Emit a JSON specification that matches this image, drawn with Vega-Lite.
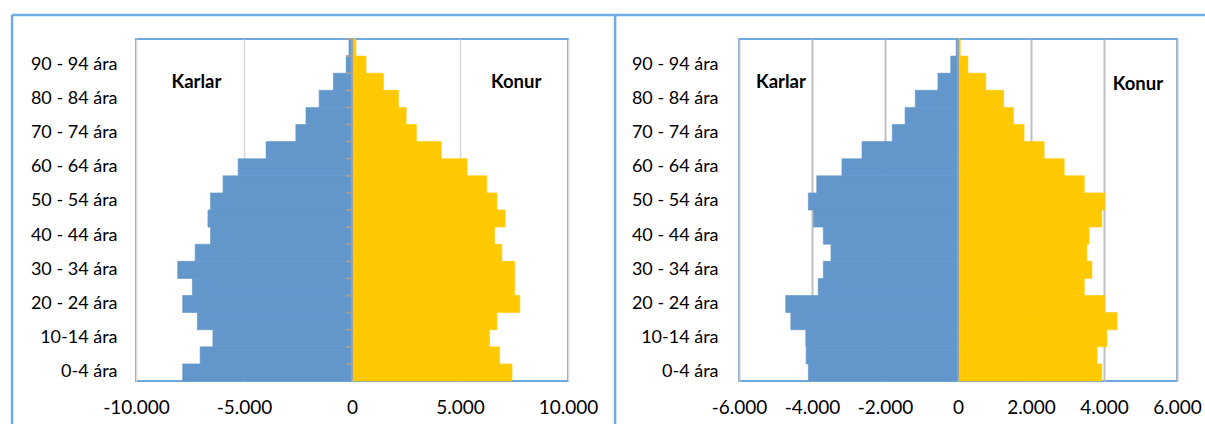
{
  "$schema": "https://vega.github.io/schema/vega-lite/v6.json",
  "padding": {"left": 9, "top": 12, "right": 0, "bottom": 0},
  "config": {
    "locale": {"number": {"decimal": ",", "thousands": ".", "grouping": [3], "currency": ["", ""], "minus": "-"}},
    "view": {"stroke": "#6FA8DC", "strokeWidth": 2},
    "font": "Lato"
  },
  "datasets": {
    "left": [
      {"age": "0-4 ára", "sex": "Karlar", "value": -7840}, {"age": "0-4 ára", "sex": "Konur", "value": 7410},
      {"age": "5-9 ára", "sex": "Karlar", "value": -7030}, {"age": "5-9 ára", "sex": "Konur", "value": 6830},
      {"age": "10-14 ára", "sex": "Karlar", "value": -6440}, {"age": "10-14 ára", "sex": "Konur", "value": 6370},
      {"age": "15-19 ára", "sex": "Karlar", "value": -7160}, {"age": "15-19 ára", "sex": "Konur", "value": 6710},
      {"age": "20 - 24 ára", "sex": "Karlar", "value": -7840}, {"age": "20 - 24 ára", "sex": "Konur", "value": 7770},
      {"age": "25 - 29 ára", "sex": "Karlar", "value": -7390}, {"age": "25 - 29 ára", "sex": "Konur", "value": 7530},
      {"age": "30 - 34 ára", "sex": "Karlar", "value": -8070}, {"age": "30 - 34 ára", "sex": "Konur", "value": 7530},
      {"age": "35 - 39 ára", "sex": "Karlar", "value": -7260}, {"age": "35 - 39 ára", "sex": "Konur", "value": 6940},
      {"age": "40 - 44 ára", "sex": "Karlar", "value": -6550}, {"age": "40 - 44 ára", "sex": "Konur", "value": 6600},
      {"age": "45 - 49 ára", "sex": "Karlar", "value": -6670}, {"age": "45 - 49 ára", "sex": "Konur", "value": 7090},
      {"age": "50 - 54 ára", "sex": "Karlar", "value": -6550}, {"age": "50 - 54 ára", "sex": "Konur", "value": 6710},
      {"age": "55 - 59 ára", "sex": "Karlar", "value": -5970}, {"age": "55 - 59 ára", "sex": "Konur", "value": 6240},
      {"age": "60 - 64 ára", "sex": "Karlar", "value": -5270}, {"age": "60 - 64 ára", "sex": "Konur", "value": 5330},
      {"age": "65 - 69 ára", "sex": "Karlar", "value": -3980}, {"age": "65 - 69 ára", "sex": "Konur", "value": 4140},
      {"age": "70 - 74 ára", "sex": "Karlar", "value": -2600}, {"age": "70 - 74 ára", "sex": "Konur", "value": 2980},
      {"age": "75 - 79 ára", "sex": "Karlar", "value": -2130}, {"age": "75 - 79 ára", "sex": "Konur", "value": 2510},
      {"age": "80 - 84 ára", "sex": "Karlar", "value": -1520}, {"age": "80 - 84 ára", "sex": "Konur", "value": 2150},
      {"age": "85 - 89 ára", "sex": "Karlar", "value": -860}, {"age": "85 - 89 ára", "sex": "Konur", "value": 1450},
      {"age": "90 - 94 ára", "sex": "Karlar", "value": -270}, {"age": "90 - 94 ára", "sex": "Konur", "value": 650},
      {"age": "95+ ára", "sex": "Karlar", "value": -140}, {"age": "95+ ára", "sex": "Konur", "value": 180}
    ],
    "right": [
      {"age": "0-4 ára", "sex": "Karlar", "value": -4100}, {"age": "0-4 ára", "sex": "Konur", "value": 3940},
      {"age": "5-9 ára", "sex": "Karlar", "value": -4160}, {"age": "5-9 ára", "sex": "Konur", "value": 3810},
      {"age": "10-14 ára", "sex": "Karlar", "value": -4170}, {"age": "10-14 ára", "sex": "Konur", "value": 4080},
      {"age": "15-19 ára", "sex": "Karlar", "value": -4580}, {"age": "15-19 ára", "sex": "Konur", "value": 4360},
      {"age": "20 - 24 ára", "sex": "Karlar", "value": -4720}, {"age": "20 - 24 ára", "sex": "Konur", "value": 4020},
      {"age": "25 - 29 ára", "sex": "Karlar", "value": -3830}, {"age": "25 - 29 ára", "sex": "Konur", "value": 3460},
      {"age": "30 - 34 ára", "sex": "Karlar", "value": -3690}, {"age": "30 - 34 ára", "sex": "Konur", "value": 3670},
      {"age": "35 - 39 ára", "sex": "Karlar", "value": -3480}, {"age": "35 - 39 ára", "sex": "Konur", "value": 3530},
      {"age": "40 - 44 ára", "sex": "Karlar", "value": -3690}, {"age": "40 - 44 ára", "sex": "Konur", "value": 3590},
      {"age": "45 - 49 ára", "sex": "Karlar", "value": -3960}, {"age": "45 - 49 ára", "sex": "Konur", "value": 3940},
      {"age": "50 - 54 ára", "sex": "Karlar", "value": -4100}, {"age": "50 - 54 ára", "sex": "Konur", "value": 4020},
      {"age": "55 - 59 ára", "sex": "Karlar", "value": -3870}, {"age": "55 - 59 ára", "sex": "Konur", "value": 3460},
      {"age": "60 - 64 ára", "sex": "Karlar", "value": -3180}, {"age": "60 - 64 ára", "sex": "Konur", "value": 2910},
      {"age": "65 - 69 ára", "sex": "Karlar", "value": -2630}, {"age": "65 - 69 ára", "sex": "Konur", "value": 2360},
      {"age": "70 - 74 ára", "sex": "Karlar", "value": -1800}, {"age": "70 - 74 ára", "sex": "Konur", "value": 1810},
      {"age": "75 - 79 ára", "sex": "Karlar", "value": -1450}, {"age": "75 - 79 ára", "sex": "Konur", "value": 1520},
      {"age": "80 - 84 ára", "sex": "Karlar", "value": -1170}, {"age": "80 - 84 ára", "sex": "Konur", "value": 1250},
      {"age": "85 - 89 ára", "sex": "Karlar", "value": -550}, {"age": "85 - 89 ára", "sex": "Konur", "value": 760},
      {"age": "90 - 94 ára", "sex": "Karlar", "value": -200}, {"age": "90 - 94 ára", "sex": "Konur", "value": 270},
      {"age": "95+ ára", "sex": "Karlar", "value": -50}, {"age": "95+ ára", "sex": "Konur", "value": 60}
    ]
  },
  "hconcat": [
    {
      "width": 432,
      "height": 342,
      "resolve": {"scale": {"y": "independent"}, "axis": {"y": "independent"}},
      "layer": [
        {
          "layer": [
            {
              "data": {"name": "left"},
              "mark": {"type": "bar", "strokeWidth": 0.6},
              "encoding": {
                "y": {
                  "field": "age", "type": "nominal",
                  "scale": {"domain": ["95+ ára", "90 - 94 ára", "85 - 89 ára", "80 - 84 ára", "75 - 79 ára", "70 - 74 ára", "65 - 69 ára", "60 - 64 ára", "55 - 59 ára", "50 - 54 ára", "45 - 49 ára", "40 - 44 ára", "35 - 39 ára", "30 - 34 ára", "25 - 29 ára", "20 - 24 ára", "15-19 ára", "10-14 ára", "5-9 ára", "0-4 ára"], "paddingInner": 0, "paddingOuter": 0},
                  "axis": {
                    "title": null, "orient": "left", "offset": -216,
                    "domain": false, "ticks": false,
                    "labelPadding": 235, "labelFont": "Lato", "labelFontSize": 18, "labelColor": "#000000",
                    "labelExpr": "indexof(['0-4 ára','10-14 ára','20 - 24 ára','30 - 34 ára','40 - 44 ára','50 - 54 ára','60 - 64 ára','70 - 74 ára','80 - 84 ára','90 - 94 ára'], datum.value) >= 0 ? datum.label : ''"
                  }
                },
                "x": {
                  "field": "value", "type": "quantitative", "stack": null,
                  "scale": {"domain": [-10000, 10000], "nice": false},
                  "axis": {
                    "title": null, "values": [-10000, -5000, 0, 5000, 10000], "format": ",d",
                    "grid": true, "gridColor": "#D9D9D9", "gridWidth": 1.5,
                    "domain": false, "ticks": false, "labelPadding": 17,
                    "labelFlush": false, "labelOverlap": false,
                    "labelFont": "Lato", "labelFontSize": 19, "labelColor": "#000000"
                  }
                },
                "color": {"field": "sex", "type": "nominal", "scale": {"domain": ["Karlar", "Konur"], "range": ["#6396CA", "#FFC900"]}, "legend": null},
                "stroke": {"field": "sex", "type": "nominal", "scale": {"domain": ["Karlar", "Konur"], "range": ["#6396CA", "#FFC900"]}, "legend": null}
              }
            },
            {
              "data": {"values": [{"line": "zero"}]},
              "mark": {"type": "rule", "color": "#A0A0A0", "strokeWidth": 2},
              "encoding": {"x": {"datum": 0, "type": "quantitative"}}
            },
            {
              "data": {"name": "left"},
              "transform": [{"filter": "datum.sex == 'Karlar'"}],
              "mark": {"type": "tick", "orient": "horizontal", "color": "#A0A0A0", "size": 6, "thickness": 2, "xOffset": -3, "opacity": 1},
              "encoding": {
                "x": {"datum": 0, "type": "quantitative"},
                "y": {"field": "age", "type": "nominal", "bandPosition": 0}
              }
            },
            {
              "data": {"values": [{"text": "Karlar"}]},
              "mark": {"type": "text", "font": "Lato", "fontSize": 18.5, "fontWeight": "bold", "color": "#000000"},
              "encoding": {
                "x": {"datum": -7200, "type": "quantitative"},
                "y": {"datum": "85 - 89 ára", "type": "nominal"},
                "text": {"field": "text"}
              }
            },
            {
              "data": {"values": [{"text": "Konur"}]},
              "mark": {"type": "text", "font": "Lato", "fontSize": 18.5, "fontWeight": "bold", "color": "#000000"},
              "encoding": {
                "x": {"datum": 7600, "type": "quantitative"},
                "y": {"datum": "85 - 89 ára", "type": "nominal"},
                "text": {"field": "text"}
              }
            }
          ]
        },
        {
          "data": {"values": [{"frame": "top"}]},
          "mark": {"type": "rule", "color": "#6FACE0", "strokeWidth": 2.5},
          "encoding": {
            "x": {"datum": -15740, "type": "quantitative"},
            "x2": {"datum": 12300},
            "y": {"datum": 107, "type": "quantitative", "scale": {"domain": [0, 100]}, "axis": null}
          }
        },
        {
          "data": {"values": [{"frame": "left"}]},
          "mark": {"type": "rule", "color": "#6FACE0", "strokeWidth": 2.5},
          "encoding": {
            "x": {"datum": -15740, "type": "quantitative"},
            "y": {"datum": 107, "type": "quantitative", "scale": {"domain": [0, 100]}, "axis": null},
            "y2": {"datum": -20}
          }
        },
        {
          "data": {"values": [{"frame": "middle"}]},
          "mark": {"type": "rule", "color": "#6FACE0", "strokeWidth": 2.5},
          "encoding": {
            "x": {"datum": 12180, "type": "quantitative"},
            "y": {"datum": 107, "type": "quantitative", "scale": {"domain": [0, 100]}, "axis": null},
            "y2": {"datum": -20}
          }
        }
      ]
    },
    {
      "width": 438,
      "height": 342,
      "resolve": {"scale": {"y": "independent"}, "axis": {"y": "independent"}},
      "layer": [
        {
          "layer": [
            {
              "data": {"name": "right"},
              "mark": {"type": "bar", "strokeWidth": 0.6},
              "encoding": {
                "y": {
                  "field": "age", "type": "nominal",
                  "scale": {"domain": ["95+ ára", "90 - 94 ára", "85 - 89 ára", "80 - 84 ára", "75 - 79 ára", "70 - 74 ára", "65 - 69 ára", "60 - 64 ára", "55 - 59 ára", "50 - 54 ára", "45 - 49 ára", "40 - 44 ára", "35 - 39 ára", "30 - 34 ára", "25 - 29 ára", "20 - 24 ára", "15-19 ára", "10-14 ára", "5-9 ára", "0-4 ára"], "paddingInner": 0, "paddingOuter": 0},
                  "axis": {
                    "title": null, "orient": "left", "offset": -219,
                    "domain": false, "ticks": false,
                    "labelPadding": 240, "labelFont": "Lato", "labelFontSize": 18, "labelColor": "#000000",
                    "labelExpr": "indexof(['0-4 ára','10-14 ára','20 - 24 ára','30 - 34 ára','40 - 44 ára','50 - 54 ára','60 - 64 ára','70 - 74 ára','80 - 84 ára','90 - 94 ára'], datum.value) >= 0 ? datum.label : ''"
                  }
                },
                "x": {
                  "field": "value", "type": "quantitative", "stack": null,
                  "scale": {"domain": [-6000, 6000], "nice": false},
                  "axis": {
                    "title": null, "values": [-6000, -4000, -2000, 0, 2000, 4000, 6000], "format": ",d",
                    "grid": true, "gridColor": "#C0C0C0", "gridWidth": 2,
                    "domain": false, "ticks": false, "labelPadding": 17,
                    "labelFlush": false, "labelOverlap": false,
                    "labelFont": "Lato", "labelFontSize": 19, "labelColor": "#000000"
                  }
                },
                "color": {"field": "sex", "type": "nominal", "scale": {"domain": ["Karlar", "Konur"], "range": ["#6396CA", "#FFC900"]}, "legend": null},
                "stroke": {"field": "sex", "type": "nominal", "scale": {"domain": ["Karlar", "Konur"], "range": ["#6396CA", "#FFC900"]}, "legend": null}
              }
            },
            {
              "data": {"values": [{"line": "zero"}]},
              "mark": {"type": "rule", "color": "#A0A0A0", "strokeWidth": 2},
              "encoding": {"x": {"datum": 0, "type": "quantitative"}}
            },
            {
              "data": {"values": [{"text": "Karlar"}]},
              "mark": {"type": "text", "font": "Lato", "fontSize": 18.5, "fontWeight": "bold", "color": "#000000"},
              "encoding": {
                "x": {"datum": -4850, "type": "quantitative"},
                "y": {"datum": "85 - 89 ára", "type": "nominal"},
                "text": {"field": "text"}
              }
            },
            {
              "data": {"values": [{"text": "Konur"}]},
              "mark": {"type": "text", "font": "Lato", "fontSize": 18.5, "fontWeight": "bold", "color": "#000000", "dy": 2},
              "encoding": {
                "x": {"datum": 4930, "type": "quantitative"},
                "y": {"datum": "85 - 89 ára", "type": "nominal"},
                "text": {"field": "text"}
              }
            }
          ]
        },
        {
          "data": {"values": [{"frame": "top"}]},
          "mark": {"type": "rule", "color": "#6FACE0", "strokeWidth": 2.5},
          "encoding": {
            "x": {"datum": -9400, "type": "quantitative"},
            "x2": {"datum": 6822},
            "y": {"datum": 107, "type": "quantitative", "scale": {"domain": [0, 100]}, "axis": null}
          }
        }
      ]
    }
  ],
  "spacing": 171,
  "bounds": "flush"
}
